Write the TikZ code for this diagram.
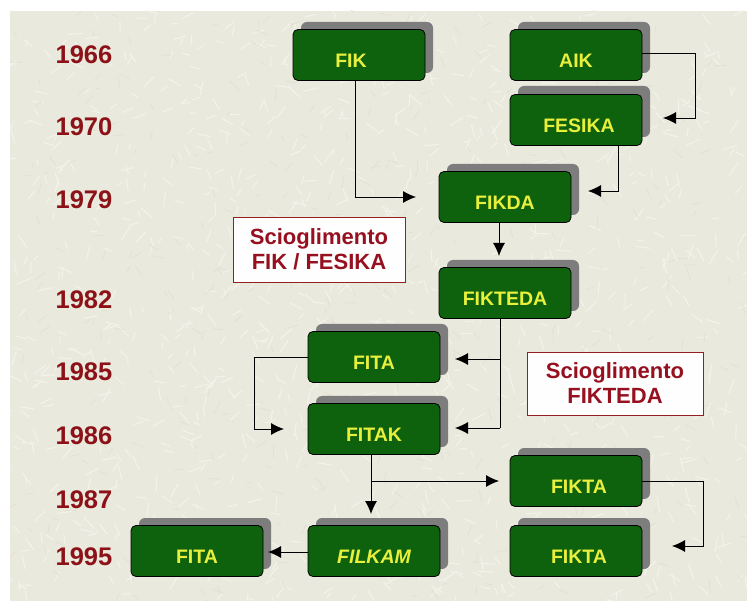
\documentclass[tikz,border=0pt]{standalone}
\usepackage{fontspec}
\setmainfont{Liberation Sans}
\usetikzlibrary{arrows.meta,calc}
\definecolor{bg}{RGB}{234,233,221}
\definecolor{bgline}{RGB}{243,243,235}
\definecolor{bgdark}{RGB}{226,225,212}
\definecolor{boxgreen}{RGB}{14,98,14}
\definecolor{txtyellow}{RGB}{232,240,60}
\definecolor{yearred}{RGB}{140,18,24}
\definecolor{noteborder}{RGB}{150,30,30}
\definecolor{notetext}{RGB}{150,16,32}
\definecolor{shadowgray}{RGB}{125,125,125}
\tikzset{
  x=1pt,y=-1pt,
  gbox/.style={draw=black, line width=0.8pt, fill=boxgreen, rounded corners=5pt,
    minimum width=132pt, minimum height=51pt, inner sep=0pt,
    text height=25pt, text depth=0pt,
    text=txtyellow, font=\bfseries\fontsize{19.5}{20}\selectfont},
  year/.style={text=yearred, font=\bfseries\fontsize{25.5}{26}\selectfont, anchor=center},
  note/.style={draw=noteborder, line width=0.9pt, fill=white!96!bg, align=center,
    text=notetext, font=\bfseries\fontsize{22}{25}\selectfont, inner sep=0pt},
  conn/.style={draw=black, line width=0.9pt},
  arr/.style={conn, -{Latex[length=13pt,width=12pt]}},
}
\begin{document}
\begin{tikzpicture}
\useasboundingbox (0,0) rectangle (747,601);
\fill[white] (0,0) rectangle (747,601);
\fill[bg] (10,11) rectangle (747,601);
\begin{scope}
\clip (10,11) rectangle (747,601);
\pgfmathsetseed{7}
\foreach \i in {1,...,1100}{
  \pgfmathsetmacro{\px}{10+737*rnd}
  \pgfmathsetmacro{\py}{11+590*rnd}
  \pgfmathsetmacro{\an}{360*rnd}
  \pgfmathsetmacro{\ln}{6+10*rnd}
  \draw[bgline, line width=1.1pt] (\px,\py) -- ++(\an:\ln);
}
\foreach \i in {1,...,400}{
  \pgfmathsetmacro{\px}{10+737*rnd}
  \pgfmathsetmacro{\py}{11+590*rnd}
  \pgfmathsetmacro{\an}{360*rnd}
  \pgfmathsetmacro{\ln}{5+8*rnd}
  \draw[bgdark, line width=0.8pt] (\px,\py) -- ++(\an:\ln);
}
\end{scope}

% shadows (top-left corners of boxes)
\foreach \x/\y in {293/30, 510/30, 510/94, 439/172, 439/268, 308/332, 308/404, 510/456, 510/526, 308/526, 131/526}{
  \fill[shadowgray, rounded corners=6pt] (\x+8,\y-8) rectangle (\x+140,\y+43);
}

% boxes
\node[gbox] (fik)    at (359,55)  {\hspace*{-16pt}FIK};
\node[gbox] (aik)    at (576,55)  {AIK};
\node[gbox] (fesika) at (576,120) {\hspace*{6pt}FESIKA};
\node[gbox] (fikda)  at (505,197) {FIKDA};
\node[gbox] (fikteda) at (505,293) {FIKTEDA};
\node[gbox] (fita)   at (374,357) {FITA};
\node[gbox] (fitak)  at (374,429) {FITAK};
\node[gbox] (fikta)  at (576,481) {\hspace*{6pt}FIKTA};
\node[gbox] (fikta2) at (576,551) {\hspace*{6pt}FIKTA};
\node[gbox] (filkam) at (374,551) {\itshape FILKAM};
\node[gbox] (fita2)  at (197,551) {FITA};

% years
\node[year] (y1966) at (84,55)  {1966};
\node[year] (y1970) at (84,127) {1970};
\node[year] (y1979) at (84,200) {1979};
\node[year] (y1982) at (84,300) {1982};
\node[year] (y1985) at (84,372) {1985};
\node[year] (y1986) at (84,436) {1986};
\node[year] (y1987) at (84,500) {1987};
\node[year] (y1995) at (84,557) {1995};

% notes
\node[note, minimum width=172pt, minimum height=65pt] (n1) at (319,249.5) {Scioglimento\\FIK / FESIKA};
\node[note, minimum width=176pt, minimum height=63pt] (n2) at (615,383.5) {Scioglimento\\FIKTEDA};

% connectors
\coordinate (t1) at (416,197);
\draw[arr] (fik.south -| 355,0) |- (t1);
\coordinate (t2) at (663,118);
\draw[arr] (aik.east |- 0,53) -- (695,53) |- (t2);
\coordinate (t3) at (588,191);
\draw[arr] (fesika.south -| 618,0) |- (t3);
\coordinate (t4) at (499,256);
\draw[arr] (fikda.south -| 499,0) -- (t4);
\coordinate (t5) at (455,359);
\coordinate (t6) at (455,428);
\draw[conn] (fikteda.south -| 500,0) -- (500,428);
\draw[arr] (500,359) -- (t5);
\draw[arr] (500,428) -- (t6);
\coordinate (t7) at (284,429);
\draw[arr] (fita.west |- 0,357) -- (254,357) |- (t7);
\coordinate (t8) at (499,481);
\coordinate (t9) at (371,514);
\draw[arr] (fitak.south -| 371,0) -- (t9);
\draw[arr] (371,481) -- (t8);
\coordinate (t10) at (268,552);
\draw[arr] (filkam.west |- 0,552) -- (t10);
\coordinate (t11) at (672,546);
\draw[arr] (fikta.east |- 0,481) -- (703,481) |- (t11);
\end{tikzpicture}
\end{document}
